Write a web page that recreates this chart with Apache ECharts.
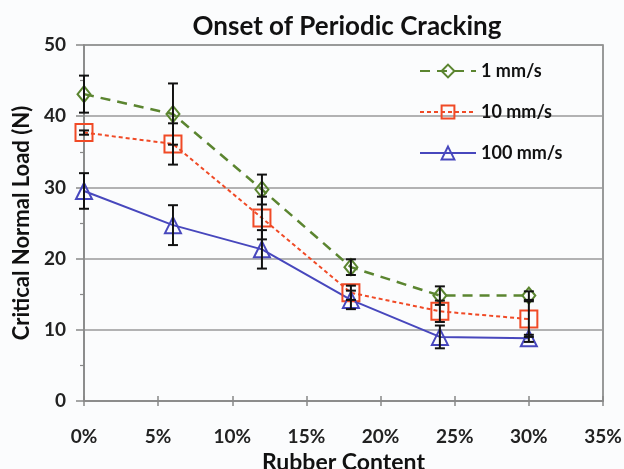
<!DOCTYPE html>
<html><head><meta charset="utf-8">
<script src="https://cdn.jsdelivr.net/npm/echarts@6/dist/echarts.min.js"></script>
<style>html,body{margin:0;padding:0;background:#fbfcfd}#c{width:624px;height:469px}</style>
</head><body><div id="c"></div>
<script>
const rubberContent = [0, 6, 12, 18, 24, 30];
const seriesNames = ['1 mm/s', '10 mm/s', '100 mm/s'];
const load1 = [43.1, 40.3, 29.7, 18.8, 14.8, 14.8];
const err1  = [2.6, 4.3, 2.1, 1.1, 1.3, 0.6];
const load10 = [37.7, 36.1, 25.7, 15.2, 12.6, 11.5];
const err10  = [0.3, 2.9, 3.0, 1.0, 1.5, 2.5];
const load100 = [29.5, 24.7, 21.3, 14.2, 9.0, 8.8];
const err100  = [2.5, 2.8, 2.7, 1.3, 1.6, 0.5];
const xTicks = [0, 5, 10, 15, 20, 25, 30, 35];
const yTicks = [0, 10, 20, 30, 40, 50];

const FONT = 'Lato';
const colors = ['#5b8530', '#f04a26', '#4747bd'];

function errData(vals, errs) {
  return rubberContent.map((x, i) => [x, vals[i] - errs[i], vals[i] + errs[i]]);
}
function errSeries(vals, errs) {
  return {
    type: 'custom', z: 5, silent: true,
    data: errData(vals, errs),
    encode: { x: 0, y: [1, 2] },
    renderItem: function (params, api) {
      const lo = api.coord([api.value(0), api.value(1)]);
      const hi = api.coord([api.value(0), api.value(2)]);
      const w = 5;
      const st = { stroke: '#111', lineWidth: 2 };
      return { type: 'group', children: [
        { type: 'line', shape: { x1: lo[0], y1: lo[1], x2: hi[0], y2: hi[1] }, style: st },
        { type: 'line', shape: { x1: lo[0]-w, y1: lo[1], x2: lo[0]+w, y2: lo[1] }, style: st },
        { type: 'line', shape: { x1: hi[0]-w, y1: hi[1], x2: hi[0]+w, y2: hi[1] }, style: st }
      ]};
    }
  };
}
function lineSeries(name, vals, color, symbol, size, ltype, lw) {
  return {
    name: name, type: 'line', z: 3,
    data: rubberContent.map((x, i) => [x, vals[i]]),
    symbol: symbol, symbolSize: size,
    itemStyle: { color: 'rgba(0,0,0,0)', borderColor: color, borderWidth: 2 },
    lineStyle: { color: color, width: lw, type: ltype },
    emphasis: { disabled: true }
  };
}

const chart = echarts.init(document.getElementById('c'), null, { renderer: 'canvas' });
chart.setOption({
  backgroundColor: '#fbfcfd',
  animation: false,
  title: {
    text: 'Onset of Periodic Cracking', left: 342, top: 9, textAlign: 'center',
    textStyle: { fontFamily: FONT, fontWeight: 'bold', fontSize: 26, color: '#111' }
  },
  legend: {
    data: seriesNames, orient: 'vertical', left: 414, top: 57,
    itemWidth: 56, itemHeight: 16, itemGap: 23, itemStyle: { borderWidth: 2 },
    textStyle: { fontFamily: FONT, fontWeight: 'bold', fontSize: 18, color: '#111' }
  },
  grid: { left: 84, right: 21, top: 45, bottom: 68, containLabel: false, outerBoundsMode: 'none',
    show: true, borderColor: '#7a7a7a', borderWidth: 1.5, backgroundColor: 'transparent' },
  xAxis: [{
    type: 'value', min: 0, max: 35, interval: 5,
    axisLine: { lineStyle: { color: '#888', width: 1.5 } },
    axisTick: { show: true, length: 5, lineStyle: { color: '#888', width: 1.5 } },
    splitLine: { show: false },
    axisLabel: { margin: 26, fontFamily: FONT, fontWeight: 'bold', fontSize: 19, color: '#222',
      customValues: xTicks, formatter: v => v + '%' },
    name: 'Rubber Content', nameLocation: 'middle', nameGap: 48,
    nameTextStyle: { fontFamily: FONT, fontWeight: 'bold', fontSize: 23, color: '#111' }
  }, {
    type: 'value', min: 0, max: 35, interval: 5, position: 'bottom', offset: 0,
    axisLine: { show: false },
    axisTick: { show: true, inside: true, length: 5, lineStyle: { color: '#888', width: 1.5 } },
    axisLabel: { show: false }, splitLine: { show: false }
  }],
  yAxis: {
    type: 'value', min: 0, max: 50, interval: 10,
    axisLine: { show: true, lineStyle: { color: '#888', width: 1.5 } },
    axisTick: { show: true, length: 8, lineStyle: { color: '#888', width: 1.5 } },
    minorTick: { show: true, splitNumber: 2, length: 4, lineStyle: { color: '#888', width: 1.2 } },
    splitLine: { show: true, lineStyle: { color: '#9a9a9a', width: 1.5 } },
    axisLabel: { margin: 18, fontFamily: FONT, fontWeight: 'bold', fontSize: 19, color: '#222',
      customValues: yTicks },
    name: 'Critical Normal Load (N)', nameLocation: 'middle', nameGap: 51,
    nameTextStyle: { fontFamily: FONT, fontWeight: 'bold', fontSize: 22, color: '#111' }
  },
  series: [
    lineSeries(seriesNames[0], load1, colors[0], 'diamond', [13, 16], [10, 7], 2.5),
    lineSeries(seriesNames[1], load10, colors[1], 'rect', 17, [4, 3], 2),
    lineSeries(seriesNames[2], load100, colors[2], 'triangle', [16, 16], 'solid', 2),
    errSeries(load1, err1),
    errSeries(load10, err10),
    errSeries(load100, err100)
  ]
});
</script></body></html>
